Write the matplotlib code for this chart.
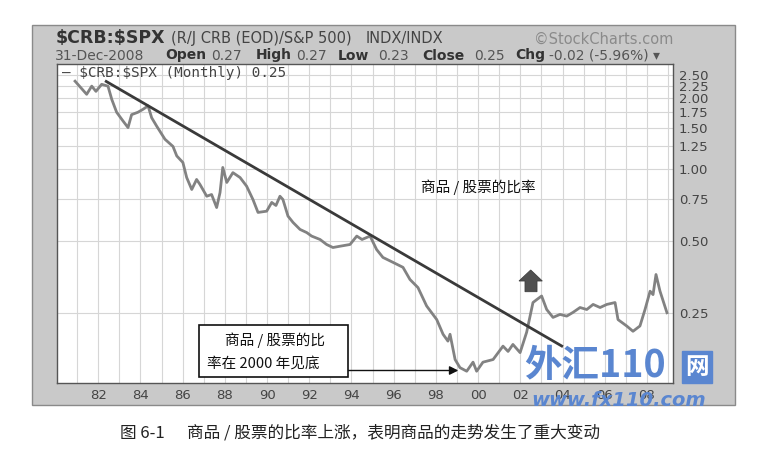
import matplotlib
matplotlib.use('Agg')
import matplotlib.pyplot as plt
from matplotlib.patches import Rectangle, Polygon
from matplotlib.ticker import FixedLocator, NullLocator

# ---------------- data ----------------
years = [1980.90, 1981.45, 1981.69, 1981.89, 1982.16, 1982.46, 1982.64, 1982.87, 1983.17, 1983.41,
         1983.58, 1983.88, 1984.12, 1984.36, 1984.53, 1984.77, 1985.16, 1985.54, 1985.72, 1986.01,
         1986.19, 1986.43, 1986.66, 1986.82, 1987.14, 1987.37, 1987.61, 1987.77, 1987.90, 1988.09,
         1988.38, 1988.72, 1989.03, 1989.33, 1989.57, 1989.98, 1990.22, 1990.42, 1990.61, 1990.75,
         1990.99, 1991.23, 1991.56, 1991.88, 1992.11, 1992.51, 1992.82, 1993.12, 1993.46, 1993.93,
         1994.25, 1994.50, 1994.88, 1995.19, 1995.49, 1995.97, 1996.44, 1996.77, 1997.15, 1997.56,
         1998.04, 1998.34, 1998.57, 1998.67, 1998.91, 1999.14, 1999.46, 1999.76, 1999.93, 2000.23,
         2000.71, 2001.18, 2001.42, 2001.65, 2001.99, 2002.30, 2002.60, 2002.78, 2003.01, 2003.25,
         2003.55, 2003.88, 2004.20, 2004.50, 2004.83, 2005.15, 2005.45, 2005.78, 2006.10, 2006.49,
         2006.63, 2007.04, 2007.34, 2007.67, 2007.91, 2008.15, 2008.29, 2008.43, 2008.62, 2008.95]
ratio = [2.35, 2.07, 2.24, 2.13, 2.28, 2.24, 1.97, 1.74, 1.60, 1.50,
         1.70, 1.74, 1.79, 1.85, 1.65, 1.52, 1.34, 1.25, 1.14, 1.07,
         0.925, 0.824, 0.908, 0.865, 0.772, 0.785, 0.692, 0.800, 1.02, 0.882,
         0.97, 0.925, 0.851, 0.748, 0.660, 0.668, 0.727, 0.706, 0.772, 0.748,
         0.637, 0.599, 0.560, 0.543, 0.525, 0.508, 0.484, 0.470, 0.476, 0.484,
         0.525, 0.508, 0.525, 0.461, 0.427, 0.407, 0.388, 0.345, 0.319, 0.267,
         0.234, 0.203, 0.190, 0.203, 0.159, 0.147, 0.142, 0.155, 0.142, 0.155,
         0.159, 0.181, 0.172, 0.184, 0.170, 0.207, 0.276, 0.284, 0.294, 0.258,
         0.239, 0.246, 0.242, 0.251, 0.263, 0.258, 0.271, 0.263, 0.271, 0.276,
         0.234, 0.220, 0.209, 0.220, 0.258, 0.308, 0.298, 0.362, 0.308, 0.25]

trend_years = [1982.32, 2004.02]
trend_values = [2.36, 0.180]

y_ticks = [0.25, 0.50, 0.75, 1.00, 1.25, 1.50, 1.75, 2.00, 2.25, 2.50]
x_ticks = list(range(1982, 2009, 2))
x_labels = ['82', '84', '86', '88', '90', '92', '94', '96', '98', '00', '02', '04', '06', '08']

# ---------------- figure ----------------
W, H = 769, 463
fig = plt.figure(figsize=(W / 100, H / 100), dpi=100)
fig.patch.set_facecolor('white')

def fx(px):
    return px / W

def fy(py):
    return 1 - py / H

CJK = ['Noto Sans CJK SC', 'DejaVu Sans']

panel = Rectangle((fx(31.7), fy(405)), (735 - 31.7) / W, (405 - 25) / H,
                  transform=fig.transFigure, facecolor='#c9c9c9',
                  edgecolor='#8a8a8a', lw=1.0, zorder=-1)
fig.patches.append(panel)

ax = fig.add_axes([fx(56.7), fy(383), (673.3 - 56.7) / W, (383 - 64.3) / H])
ax.set_facecolor('white')
ax.set_yscale('log')
ax.set_xlim(1980.03, 2009.25)
ax.set_ylim(0.1267, 2.767)

ax.yaxis.set_major_locator(FixedLocator(y_ticks))
ax.yaxis.set_minor_locator(NullLocator())
ax.set_yticklabels(['%.2f' % v for v in y_ticks])
ax.xaxis.set_major_locator(FixedLocator(x_ticks))
ax.xaxis.set_minor_locator(FixedLocator(list(range(1980, 2010))))
ax.set_xticklabels(x_labels)
ax.yaxis.tick_right()
ax.tick_params(axis='both', which='both', length=0, colors='#444444', labelsize=9.5)
ax.tick_params(axis='y', pad=4)
ax.tick_params(axis='x', pad=4)
ax.grid(True, which='both', axis='x', color='#d6d6d6', lw=0.8)
ax.grid(True, which='major', axis='y', color='#d6d6d6', lw=0.8)
ax.set_axisbelow(True)
for s in ax.spines.values():
    s.set_color('#555555')
    s.set_linewidth(1.0)

ax.plot(years, ratio, color='#828282', lw=2.0, solid_joinstyle='round', zorder=3)
ax.plot(trend_years, trend_values, color='#3a3a3a', lw=2.0, solid_capstyle='butt', zorder=4)

# legend line inside plot
fig.text(fx(61.7), fy(73.5), '— $CRB:$SPX (Monthly) 0.25', family='DejaVu Sans Mono',
         fontsize=10.3, color='#444444', va='center', ha='left', parse_math=False)

# ---------------- header ----------------
fig.text(fx(56), fy(38), '$CRB:$SPX', fontsize=12.5, weight='bold', color='#333333',
         va='center', ha='left', parse_math=False)
fig.text(fx(171), fy(39), '(R/J CRB (EOD)/S&P 500)', fontsize=10.5, color='#444444',
         va='center', ha='left', parse_math=False)
fig.text(fx(366), fy(39), 'INDX/INDX', fontsize=10.5, color='#444444',
         va='center', ha='left', parse_math=False)
fig.text(fx(673), fy(39.5), '©StockCharts.com', fontsize=10.5, color='#8a8a8a',
         va='center', ha='right', parse_math=False)

row2 = [(55, '31-Dec-2008', 'normal'), (165.7, 'Open', 'bold'), (211, '0.27', 'normal'),
        (256, 'High', 'bold'), (296.5, '0.27', 'normal'), (337.6, 'Low', 'bold'),
        (378.6, '0.23', 'normal'), (422, 'Close', 'bold'), (473.8, '0.25', 'normal'),
        (515.7, 'Chg', 'bold'), (549, '-0.02 (-5.96%) ▾', 'normal')]
for px, s, w in row2:
    fig.text(fx(px), fy(55.5), s, fontsize=10, weight=w,
             color='#333333' if w == 'bold' else '#555555',
             va='center', ha='left', parse_math=False)

# ---------------- annotations ----------------
box = Rectangle((fx(199.3), fy(376.7)), (348.3 - 199.3) / W, (376.7 - 325) / H,
                transform=fig.transFigure, facecolor='white', edgecolor='#111111',
                lw=1.2, zorder=5)
fig.patches.append(box)
fig.text(fx(225), fy(340), '商品 / 股票的比', family=CJK, fontsize=10.5,
         color='#111111', va='center', ha='left', zorder=6)
fig.text(fx(206.7), fy(363.3), '率在 2000 年见底', family=CJK, fontsize=10.5,
         color='#111111', va='center', ha='left', zorder=6)
ax.annotate('', xy=(fx(458.3), fy(370.5)), xytext=(fx(348.3), fy(370.5)),
            xycoords='figure fraction', textcoords='figure fraction',
            arrowprops=dict(arrowstyle='-|>', color='#111111', lw=1.0,
                            mutation_scale=13, shrinkA=0, shrinkB=0), zorder=6)

fig.text(fx(478), fy(187), '商品 / 股票的比率', family=CJK, fontsize=10.5,
         color='#111111', va='center', ha='center')

up = Polygon([(fx(525), fy(291.7)), (fx(537), fy(291.7)), (fx(537), fy(281)),
              (fx(542.3), fy(281)), (fx(530.7), fy(270)), (fx(519), fy(281)),
              (fx(525), fy(281))], closed=True, transform=fig.transFigure,
             facecolor='#505050', edgecolor='#404040', lw=0.6, zorder=6)
fig.patches.append(up)

# ---------------- watermark ----------------
wm = '#5a86d0'
fig.text(fx(524), fy(366), '外汇110', family=CJK, fontsize=27, weight='bold',
         color=wm, va='center', ha='left', zorder=10)
fig.text(fx(697), fy(367), '网', family=CJK, fontsize=17, weight='bold',
         color='white', va='center', ha='center', zorder=10,
         bbox=dict(boxstyle='square,pad=0.15', facecolor=wm, edgecolor=wm))
fig.text(fx(531), fy(400), 'www.fx110.com', family='DejaVu Sans', fontsize=14,
         weight='bold', style='italic', color=wm, va='center', ha='left', zorder=10)

# ---------------- caption ----------------
fig.text(fx(120), fy(433.5), '图 6-1', family=CJK, fontsize=12, color='#222222',
         va='center', ha='left')
fig.text(fx(186.7), fy(433.5), '商品 / 股票的比率上涨，表明商品的走势发生了重大变动',
         family=CJK, fontsize=12, color='#222222', va='center', ha='left')

fig.savefig('out.png', dpi=100)
